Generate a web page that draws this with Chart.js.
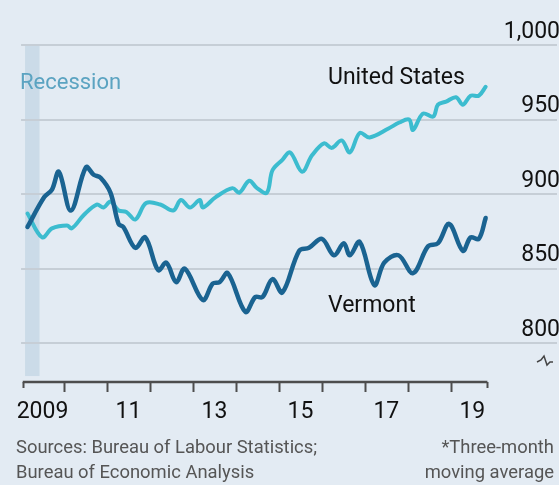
<!DOCTYPE html>
<html lang="en">
<head>
    <meta charset="UTF-8">
    <title>Vermont vs United States</title>
    <script src="https://cdn.jsdelivr.net/npm/chart.js"></script>
    <style>
        body {
            margin: 0;
            padding: 0;
            background-color: #e3ebf3;
            font-family: Roboto, 'Noto Sans', sans-serif;
            overflow: hidden;
        }

        .wrap {
            position: relative;
            width: 559px;
            height: 485px;
        }

        canvas {
            position: absolute;
            left: 0;
            top: 0;
        }

        .note {
            position: absolute;
            white-space: nowrap;
            line-height: 1;
        }

        .series {
            color: #111111;
            font-size: 23px;
        }

        .recession {
            color: #5ba3c1;
            font-size: 22px;
            left: 20px;
            top: 71px;
        }

        .source {
            color: #555555;
            font-size: 18.4px;
            line-height: 25px;
        }
    </style>
</head>
<body>
    <div class="wrap">
        <canvas id="chart" width="559" height="485"></canvas>
        <div class="note recession">Recession</div>
        <div class="note series" style="left: 328px; top: 65px;">United States</div>
        <div class="note series" style="left: 328px; top: 293px;">Vermont</div>
        <div class="note source" style="left: 16px; top: 434px;">Sources: Bureau of Labour Statistics;<br>Bureau of Economic Analysis</div>
        <div class="note source" style="right: 5px; top: 434px; text-align: right;">*Three-month<br>moving average</div>
    </div>

    <script>
        // values (decimal year, index value)
        const vermontDates = [2009.15, 2009.54, 2009.72, 2009.88, 2010.16, 2010.51, 2010.69, 2010.85, 2011.08, 2011.27,
            2011.38, 2011.66, 2011.89, 2012.19, 2012.38, 2012.61, 2012.81, 2013.23, 2013.46, 2013.62,
            2013.81, 2014.22, 2014.45, 2014.62, 2014.85, 2015.08, 2015.47, 2015.70, 2016.00, 2016.28,
            2016.51, 2016.65, 2016.88, 2017.22, 2017.45, 2017.78, 2018.12, 2018.47, 2018.70, 2018.96,
            2019.28, 2019.46, 2019.65, 2019.81];
        const vermontValues = [878, 898, 903, 915, 889, 918, 913, 911, 901, 880,
            878, 864, 871, 849, 854, 841, 850, 829, 840, 841,
            847, 821, 831, 831, 843, 834, 862, 864, 870, 859,
            867, 859, 868, 839, 854, 859, 847, 865, 867, 880,
            862, 871, 870, 884];

        const usDates = [2009.15, 2009.49, 2009.72, 2010.07, 2010.18, 2010.46, 2010.76, 2010.92, 2011.08, 2011.27,
            2011.45, 2011.66, 2011.91, 2012.24, 2012.54, 2012.72, 2012.93, 2013.16, 2013.23, 2013.53,
            2013.92, 2014.08, 2014.31, 2014.49, 2014.72, 2014.85, 2015.08, 2015.26, 2015.54, 2015.77,
            2016.05, 2016.23, 2016.46, 2016.65, 2016.88, 2017.11, 2017.55, 2017.80, 2018.03, 2018.12,
            2018.35, 2018.59, 2018.70, 2018.89, 2019.12, 2019.28, 2019.46, 2019.65, 2019.81];
        const usValues = [887, 871, 877, 879, 877, 886, 893, 891, 895, 889,
            888, 883, 894, 893, 889, 896, 891, 896, 891, 898,
            904, 901, 909, 904, 901, 916, 923, 928, 915, 926,
            934, 931, 936, 928, 941, 938, 944, 948, 950, 943,
            954, 952, 960, 962, 965, 960, 966, 966, 972];

        const yTicks = [800, 850, 900, 950, 1000];
        const yearLabels = ['2009', '11', '13', '15', '17', '19'];
        const labelYears = [2009, 2011, 2013, 2015, 2017, 2019];
        const recessionEnd = 2009.43;
        const axisStart = 2009.04;
        const axisEnd = 2019.85;

        function points(dates, values) {
            return dates.map((d, i) => ({ x: d, y: values[i] }));
        }

        const extras = {
            id: 'extras',
            beforeDraw(chart) {
                const ctx = chart.ctx;
                const x = chart.scales.x;
                const y = chart.scales.y;
                ctx.save();
                ctx.fillStyle = '#e3ebf3';
                ctx.fillRect(0, 0, chart.width, chart.height);
                // recession band
                ctx.fillStyle = '#cbdbe8';
                const left = chart.chartArea.left + 4;
                ctx.fillRect(left, y.getPixelForValue(1000), x.getPixelForValue(recessionEnd) - left,
                    y.getPixelForValue(778) - y.getPixelForValue(1000));
                ctx.restore();
            },
            afterDraw(chart) {
                const ctx = chart.ctx;
                const x = chart.scales.x;
                const base = chart.chartArea.bottom;
                ctx.save();
                ctx.strokeStyle = '#4d4d4d';
                ctx.lineWidth = 2.5;
                ctx.beginPath();
                ctx.moveTo(x.getPixelForValue(axisStart), base);
                ctx.lineTo(x.getPixelForValue(axisEnd), base);
                ctx.stroke();
                ctx.lineWidth = 2;
                const marks = [axisStart];
                for (let yr = 2010; yr <= 2019; yr++) marks.push(yr);
                marks.push(axisEnd);
                marks.forEach(m => {
                    const px = Math.round(x.getPixelForValue(m)) + 0.5;
                    ctx.beginPath();
                    ctx.moveTo(px, base);
                    ctx.lineTo(px, base + (m === axisStart || m === axisEnd ? 6 : 10));
                    ctx.stroke();
                });
                // axis break sign
                const bx = chart.chartArea.right - 20;
                const by = base - 21;
                ctx.lineWidth = 1.5;
                ctx.strokeStyle = '#444444';
                ctx.beginPath();
                ctx.moveTo(bx, by + 1);
                ctx.lineTo(bx + 4, by - 1);
                ctx.lineTo(bx + 7, by - 5);
                ctx.lineTo(bx + 10, by + 4);
                ctx.lineTo(bx + 13, by + 1);
                ctx.lineTo(bx + 16, by + 1);
                ctx.stroke();
                ctx.restore();
            }
        };

        new Chart(document.getElementById('chart').getContext('2d'), {
            type: 'line',
            data: {
                datasets: [{
                    label: 'Vermont',
                    data: points(vermontDates, vermontValues),
                    borderColor: '#1a6391',
                    borderWidth: 4.5,
                    pointRadius: 0,
                    tension: 0.35,
                    borderCapStyle: 'round',
                    borderJoinStyle: 'round'
                }, {
                    label: 'United States',
                    data: points(usDates, usValues),
                    borderColor: '#3cbccf',
                    borderWidth: 4,
                    pointRadius: 0,
                    tension: 0.35,
                    borderCapStyle: 'round',
                    borderJoinStyle: 'round'
                }]
            },
            options: {
                responsive: false,
                animation: false,
                events: [],
                layout: {
                    padding: { left: 17, right: 2, top: 45, bottom: 0 }
                },
                plugins: {
                    legend: { display: false },
                    tooltip: { enabled: false }
                },
                scales: {
                    x: {
                        type: 'linear',
                        min: 2009,
                        max: 2021.47,
                        grid: { display: false, drawTicks: false },
                        border: { display: false },
                        afterBuildTicks(scale) {
                            scale.ticks = labelYears.map(v => ({ value: v + 0.5 }));
                        },
                        afterFit(scale) {
                            scale.height = 103;
                        },
                        ticks: {
                            maxRotation: 0,
                            autoSkip: false,
                            padding: 16,
                            color: '#111111',
                            font: { family: 'Roboto', size: 23 },
                            callback: (value, i) => yearLabels[i]
                        }
                    },
                    y: {
                        position: 'right',
                        min: 774,
                        max: 1000,
                        grid: { color: '#c6ced6', lineWidth: 2, drawTicks: false },
                        border: { display: false },
                        afterBuildTicks(scale) {
                            scale.ticks = yTicks.map(v => ({ value: v }));
                        },
                        afterFit(scale) {
                            scale.width = 0;
                        },
                        ticks: {
                            mirror: true,
                            padding: 3,
                            labelOffset: -13,
                            color: '#111111',
                            font: { family: 'Roboto', size: 23 },
                            callback: v => v.toLocaleString('en-US')
                        }
                    }
                }
            },
            plugins: [extras]
        });
    </script>
</body>
</html>
